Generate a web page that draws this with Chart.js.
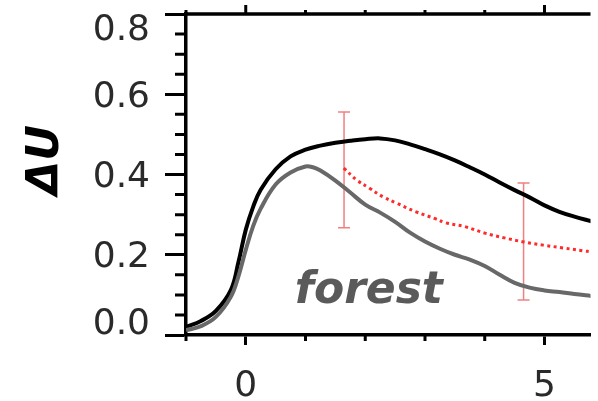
<!DOCTYPE html>
<html>
<head>
<meta charset="utf-8">
<script src="https://cdn.jsdelivr.net/npm/chart.js@4.4.0/dist/chart.umd.min.js"></script>
<style>
  html, body { margin: 0; padding: 0; background: #fff; }
  #wrap { width: 598px; height: 401px; }
</style>
</head>
<body>
<div id="wrap"><canvas id="chart"></canvas></div>
<script>
// black curve (total)
const blackX = [-1, -0.75, -0.5, -0.25, -0.125, 0, 0.125, 0.25, 0.5, 0.75, 1, 1.25, 1.5, 1.75, 2, 2.25, 2.5, 2.75, 3, 3.25, 3.5, 3.75, 4, 4.25, 4.5, 4.75, 5, 5.25, 5.5, 5.8]
const blackY = [0.02, 0.035, 0.06, 0.112, 0.18, 0.262, 0.32, 0.362, 0.413, 0.445, 0.462, 0.472, 0.479, 0.484, 0.488, 0.49, 0.485, 0.475, 0.463, 0.45, 0.435, 0.418, 0.40, 0.38, 0.361, 0.343, 0.323, 0.307, 0.295, 0.283]

// gray curve (forest)
const grayX = [-1, -0.75, -0.5, -0.25, -0.125, 0, 0.125, 0.25, 0.5, 0.75, 1, 1.125, 1.25, 1.5, 1.75, 2, 2.25, 2.5, 2.75, 3, 3.25, 3.5, 3.75, 4, 4.25, 4.5, 4.75, 5, 5.25, 5.5, 5.8]
const grayY = [0.012, 0.022, 0.045, 0.095, 0.145, 0.212, 0.272, 0.315, 0.375, 0.405, 0.42, 0.418, 0.41, 0.385, 0.355, 0.325, 0.305, 0.282, 0.255, 0.233, 0.215, 0.2, 0.188, 0.172, 0.15, 0.13, 0.118, 0.111, 0.107, 0.102, 0.097]

// red dotted curve
const redX = [1.64, 1.86, 2.07, 2.3, 2.52, 2.85, 3.17, 3.34, 3.67, 4.0, 4.33, 4.65, 4.98, 5.31, 5.64, 5.8]
const redY = [0.416, 0.386, 0.366, 0.344, 0.329, 0.307, 0.29, 0.28, 0.27, 0.254, 0.242, 0.232, 0.224, 0.217, 0.21, 0.207]

// error bars
const errX = [1.645, 4.65]
const errLo = [0.267, 0.087]
const errHi = [0.556, 0.379]

const xMajor = [0, 5]
const xMinor = [-1, 1, 2, 3, 4]
const yTicks = [0, 0.2, 0.4, 0.6, 0.8]
const yLabels = ["0.0", "0.2", "0.4", "0.6", "0.8"]
const yMinor = [0.05, 0.1, 0.15, 0.25, 0.3, 0.35, 0.45, 0.5, 0.55, 0.65, 0.7, 0.75]
const yTitle = "ΔU"
const note = { text: "forest", x: 2.06, y: 0.08 }

const pts = (xs, ys) => xs.map((x, i) => ({ x: x, y: ys[i] }))

const errorSets = errX.map((x, i) => ({
    data: [{ x: x, y: errLo[i] }, { x: x, y: errHi[i] }],
    borderColor: "#f08080",
    borderWidth: 1.5,
    pointStyle: "line",
    pointRadius: 6,
    pointBorderColor: "#f08080",
    pointBorderWidth: 1.5,
    tension: 0,
}))

const extras = {
    id: "extras",
    afterDraw(chart) {
        const { ctx, chartArea } = chart
        const xs = chart.scales.x
        const ys = chart.scales.y
        ctx.save()
        ctx.strokeStyle = "#000"
        ctx.lineWidth = 3.5
        // top axis
        ctx.beginPath()
        ctx.moveTo(chartArea.left - 1.75, chartArea.top)
        ctx.lineTo(chartArea.right, chartArea.top)
        ctx.stroke()
        ctx.lineWidth = 3
        ctx.beginPath()
        xMajor.forEach((v) => {
            const p = xs.getPixelForValue(v)
            ctx.moveTo(p, chartArea.top)
            ctx.lineTo(p, chartArea.top - 9)
        })
        xMinor.forEach((v) => {
            const p = xs.getPixelForValue(v)
            ctx.moveTo(p, chartArea.top)
            ctx.lineTo(p, chartArea.top - 4)
            ctx.moveTo(p, chartArea.bottom)
            ctx.lineTo(p, chartArea.bottom + 6)
        })
        yMinor.forEach((v) => {
            const p = ys.getPixelForValue(v)
            ctx.moveTo(chartArea.left, p)
            ctx.lineTo(chartArea.left - 11, p)
        })
        ctx.stroke()

        // y tick labels, kept inside the frame at both ends
        ctx.fillStyle = "#2a2a2a"
        ctx.font = "36px 'DejaVu Sans'"
        ctx.textAlign = "right"
        ctx.textBaseline = "middle"
        yTicks.forEach((v, i) => {
            const p = Math.min(Math.max(ys.getPixelForValue(v), chartArea.top + 14), chartArea.bottom - 13)
            ctx.fillText(yLabels[i], chartArea.left - 36, p + 3)
        })

        // y title
        ctx.fillStyle = "#000"
        ctx.font = "italic bold 44px 'DejaVu Sans'"
        ctx.textAlign = "center"
        ctx.translate(47, 160)
        ctx.rotate(-Math.PI / 2)
        ctx.fillText(yTitle, 0, 0)
        ctx.restore()

        // annotation
        ctx.save()
        ctx.fillStyle = "#5a5a5a"
        ctx.font = "italic bold 44px 'DejaVu Sans'"
        ctx.textAlign = "center"
        ctx.textBaseline = "alphabetic"
        ctx.fillText(note.text, xs.getPixelForValue(note.x), ys.getPixelForValue(note.y))
        ctx.restore()
    },
}

const noPad = (s) => {
    s.paddingTop = 0
    s.paddingBottom = 0
    s.paddingLeft = 0
    s.paddingRight = 0
}

new Chart(document.getElementById("chart"), {
    type: "line",
    data: {
        datasets: [
            {
                data: pts(grayX, grayY),
                borderColor: "#686868",
                borderWidth: 4,
                pointRadius: 0,
                tension: 0.4,
            },
            {
                data: pts(blackX, blackY),
                borderColor: "#000",
                borderWidth: 4,
                pointRadius: 0,
                tension: 0.4,
            },
            {
                data: pts(redX, redY),
                borderColor: "#ff2a2a",
                borderWidth: 3,
                borderDash: [3, 3.5],
                pointRadius: 0,
                tension: 0.4,
            },
            ...errorSets,
        ],
    },
    options: {
        responsive: true,
        maintainAspectRatio: false,
        animation: false,
        layout: { padding: { top: 14, right: 0, left: 0, bottom: 0 } },
        plugins: { legend: false, title: false, tooltip: { enabled: false } },
        scales: {
            x: {
                type: "linear",
                min: -1,
                max: 5.77,
                afterFit: (s) => { s.height = 66; noPad(s) },
                border: { display: true, color: "#000", width: 3.5 },
                grid: { drawOnChartArea: false, tickLength: 10, tickWidth: 3, tickColor: "#000" },
                ticks: {
                    stepSize: 5,
                    includeBounds: false,
                    padding: 20,
                    color: "#2a2a2a",
                    font: { family: "DejaVu Sans", size: 36 },
                    maxRotation: 0,
                },
            },
            y: {
                min: 0,
                max: 0.8,
                afterFit: (s) => { s.width = 186; noPad(s) },
                border: { display: true, color: "#000", width: 3.5 },
                grid: { drawOnChartArea: false, tickLength: 21, tickWidth: 3, tickColor: "#000" },
                ticks: { stepSize: 0.2, display: false },
            },
        },
    },
    plugins: [extras],
})
</script>
</body>
</html>
